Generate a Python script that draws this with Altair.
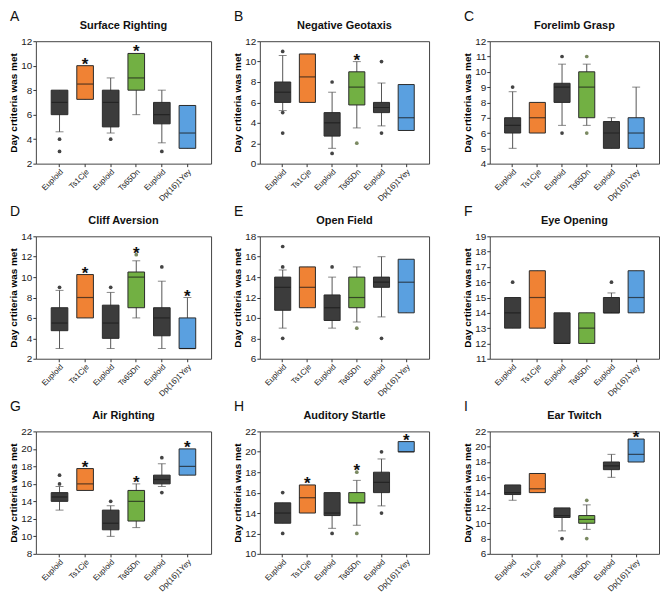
import altair as alt
import pandas as pd

GROUPS = ["Euploid", "Ts1Cje", "Euploid", "Ts65Dn", "Euploid", "Dp(16)1Yey"]
FILLS = ["#3c3c3c", "#f08234", "#3c3c3c", "#72b043", "#3c3c3c", "#5aa0e0"]
OUT_COLORS = ["#444444", "#444444", "#444444", "#7b8a62", "#444444", "#444444"]

# A: Surface Righting
A_LO = [4.6, 7.25, 4.5, 6.0, 3.7, 3.25]
A_Q1 = [6.0, 7.25, 5.0, 8.0, 5.25, 3.25]
A_MED = [7.0, 8.5, 7.0, 9.0, 6.0, 4.5]
A_Q3 = [8.0, 10.0, 8.0, 11.0, 7.0, 6.75]
A_HI = [8.0, 10.0, 9.0, 11.0, 8.0, 6.75]
A_OUT_G = [0, 0, 2, 4]
A_OUT_V = [4, 3, 4, 3]
A_STAR = [1, 3]

# B: Negative Geotaxis
B_LO = [5.2, 6.0, 1.5, 3.5, 3.7, 3.25]
B_Q1 = [6.0, 6.0, 2.7, 5.75, 5.0, 3.25]
B_MED = [7.0, 8.5, 4.0, 7.5, 5.5, 4.5]
B_Q3 = [8.0, 10.75, 5.0, 9.0, 6.0, 7.75]
B_HI = [10.6, 10.75, 7.0, 10.0, 7.9, 7.75]
B_OUT_G = [0, 0, 0, 2, 2, 3, 4, 4]
B_OUT_V = [11, 5, 3, 8, 1, 2, 10, 3]
B_STAR = [3]

# C: Forelimb Grasp
C_LO = [5.0, 6.0, 6.5, 6.5, 5.0, 5.0]
C_Q1 = [6.0, 6.0, 8.0, 7.0, 5.0, 5.0]
C_MED = [6.5, 7.0, 9.0, 9.0, 6.0, 6.0]
C_Q3 = [7.0, 8.0, 9.25, 10.0, 6.75, 7.0]
C_HI = [8.7, 8.0, 10.5, 10.5, 7.0, 9.0]
C_OUT_G = [0, 2, 2, 3, 3]
C_OUT_V = [9, 11, 6, 11, 6]
C_STAR = []

# D: Cliff Aversion
D_LO = [3.0, 6.0, 3.0, 6.0, 3.0, 3.0]
D_Q1 = [4.75, 6.0, 4.0, 7.0, 4.25, 3.0]
D_MED = [5.5, 8.0, 5.5, 10.0, 6.0, 3.0]
D_Q3 = [7.0, 10.25, 7.25, 10.5, 7.0, 6.0]
D_HI = [8.7, 10.25, 8.5, 11.6, 9.6, 8.0]
D_OUT_G = [0, 2, 3, 4]
D_OUT_V = [9, 9, 12.2, 11]
D_STAR = [1, 3, 5]

# E: Open Field
E_LO = [9.0, 11.0, 9.0, 9.6, 10.1, 10.5]
E_Q1 = [10.75, 11.0, 9.75, 11.0, 13.0, 10.5]
E_MED = [13.0, 13.0, 11.0, 12.0, 13.5, 13.5]
E_Q3 = [14.0, 15.0, 12.25, 14.0, 14.0, 15.75]
E_HI = [14.7, 15.0, 14.0, 15.0, 16.0, 15.75]
E_OUT_G = [0, 0, 0, 2, 3, 4]
E_OUT_V = [17, 15, 8, 15, 9, 8]
E_STAR = []

# F: Eye Opening
F_LO = [13.0, 13.0, 12.0, 12.0, 14.0, 14.0]
F_Q1 = [13.0, 13.0, 12.0, 12.0, 14.0, 14.0]
F_MED = [14.0, 15.0, 12.0, 13.0, 14.0, 15.0]
F_Q3 = [15.0, 16.75, 14.0, 14.0, 15.0, 16.75]
F_HI = [15.0, 16.75, 14.0, 14.0, 15.3, 16.75]
F_OUT_G = [0, 4]
F_OUT_V = [16, 16]
F_STAR = []

# G: Air Righting
G_LO = [13.0, 15.25, 10.0, 11.0, 15.7, 17.0]
G_Q1 = [14.0, 15.25, 10.75, 11.75, 16.0, 17.0]
G_MED = [14.5, 16.0, 11.5, 14.0, 16.5, 18.0]
G_Q3 = [15.0, 17.75, 13.0, 15.25, 17.0, 20.0]
G_HI = [15.7, 17.75, 13.5, 16.0, 18.3, 20.0]
G_OUT_G = [0, 0, 2, 4, 4]
G_OUT_V = [17, 16, 14, 19, 15]
G_STAR = [1, 3, 5]

# H: Auditory Startle
H_LO = [13.0, 14.0, 12.5, 12.8, 14.7, 20.0]
H_Q1 = [13.0, 14.0, 13.75, 15.0, 16.0, 20.0]
H_MED = [14.0, 15.5, 14.0, 15.0, 17.0, 20.0]
H_Q3 = [15.0, 16.75, 16.0, 16.0, 18.0, 21.0]
H_HI = [15.0, 16.75, 16.0, 17.2, 19.3, 21.0]
H_OUT_G = [0, 0, 2, 3, 3, 4, 4]
H_OUT_V = [16, 12, 12, 18, 12, 20, 14]
H_STAR = [1, 3, 5]

# I: Ear Twitch
I_LO = [13.0, 14.0, 9.0, 9.2, 16.0, 18.0]
I_Q1 = [13.75, 14.0, 10.75, 10.0, 17.0, 18.0]
I_MED = [14.0, 14.5, 11.0, 10.5, 17.5, 19.0]
I_Q3 = [15.0, 16.5, 12.0, 11.0, 18.0, 21.0]
I_HI = [15.0, 16.5, 12.0, 12.4, 19.0, 21.0]
I_OUT_G = [2, 3, 3]
I_OUT_V = [8, 13, 8]
I_STAR = [5]

H = 123
FONT = "Liberation Sans"


def panel(w, letter, title, lo, q1, med, q3, hi, out_g, out_v, stars, ymin, ymax, ystep):
    df = pd.DataFrame({"g": list(range(6)), "lo": lo, "q1": q1, "med": med,
                       "q3": q3, "hi": hi, "fill": FILLS})
    caps = []
    for i in range(6):
        if lo[i] < q1[i]:
            caps.append({"g": i, "v": lo[i]})
        if hi[i] > q3[i]:
            caps.append({"g": i, "v": hi[i]})
    caps_df = pd.DataFrame(caps)
    out_df = pd.DataFrame({"g": out_g, "v": out_v,
                           "c": [OUT_COLORS[g] for g in out_g]})
    star_rows = []
    for s in stars:
        top = max([hi[s], q3[s]] + [v for g, v in zip(out_g, out_v) if g == s])
        star_rows.append({"g": s, "v": top, "t": "*"})

    labels = "[" + ",".join("'" + s + "'" for s in GROUPS) + "]"
    xsc = alt.Scale(domain=list(range(6)), paddingInner=0.35, paddingOuter=0.6)
    xax = alt.Axis(labelExpr=labels + "[datum.value]", labelAngle=-45,
                   labelFontSize=8, labelColor="#222", tickSize=3,
                   domain=False, labelPadding=1, labelOverlap=False)
    x = alt.X("g:O", title=None, scale=xsc, axis=xax)
    ysc = alt.Scale(domain=[ymin, ymax], nice=False, zero=False)
    yax = alt.Axis(values=list(range(ymin, ymax + 1, ystep)),
                   title="Day crtiteria was met", titleFontSize=10,
                   titleFontWeight="bold", titlePadding=2, labelFontSize=10,
                   labelColor="#222", tickSize=3, domain=False, grid=False,
                   labelPadding=1, labelOverlap=False, labelFlush=False)

    def Y(f):
        return alt.Y(f, scale=ysc, axis=yax)

    layers = [
        alt.Chart(df).mark_rule(color="#555", strokeWidth=1).encode(
            x=x, y=Y("lo:Q"), y2="hi:Q"),
        alt.Chart(caps_df).mark_tick(color="#555", size=8, thickness=1).encode(
            x=x, y=Y("v:Q")),
        alt.Chart(df).mark_bar(stroke="#2a2a2a", strokeWidth=1).encode(
            x=x, y=Y("q1:Q"), y2="q3:Q", fill=alt.Fill("fill:N", scale=None)),
        alt.Chart(df).mark_tick(color="#1a1a1a", size=16, thickness=1.2).encode(
            x=x, y=Y("med:Q")),
        alt.Chart(out_df).mark_circle(size=14, opacity=1).encode(
            x=x, y=Y("v:Q"), color=alt.Color("c:N", scale=None)),
    ]
    if star_rows:
        layers.append(alt.Chart(pd.DataFrame(star_rows)).mark_text(
            fontSize=17, fontWeight="bold", baseline="alphabetic", dy=4,
            color="#111").encode(x=x, y=Y("v:Q"), text="t:N"))
    layers.append(alt.Chart(pd.DataFrame({"t": [letter]})).mark_text(
        align="left", baseline="top", fontSize=14, font=FONT, color="#111").encode(
        text="t:N", x=alt.value(-26), y=alt.value(-31)))
    layers.append(alt.Chart(pd.DataFrame({"t": [title]})).mark_text(
        align="center", baseline="alphabetic", fontSize=11, fontWeight="bold",
        font=FONT, color="#111").encode(
        text="t:N", x=alt.value(w / 2), y=alt.value(-12)))
    return alt.layer(*layers).properties(width=w, height=H)


W1, W2 = 176, 170
pA = panel(W1, "A", "Surface Righting", A_LO, A_Q1, A_MED, A_Q3, A_HI, A_OUT_G, A_OUT_V, A_STAR, 2, 12, 2)
pB = panel(W2, "B", "Negative Geotaxis", B_LO, B_Q1, B_MED, B_Q3, B_HI, B_OUT_G, B_OUT_V, B_STAR, 0, 12, 2)
pC = panel(W2, "C", "Forelimb Grasp", C_LO, C_Q1, C_MED, C_Q3, C_HI, C_OUT_G, C_OUT_V, C_STAR, 4, 12, 1)
pD = panel(W1, "D", "Cliff Aversion", D_LO, D_Q1, D_MED, D_Q3, D_HI, D_OUT_G, D_OUT_V, D_STAR, 2, 14, 2)
pE = panel(W2, "E", "Open Field", E_LO, E_Q1, E_MED, E_Q3, E_HI, E_OUT_G, E_OUT_V, E_STAR, 6, 18, 2)
pF = panel(W2, "F", "Eye Opening", F_LO, F_Q1, F_MED, F_Q3, F_HI, F_OUT_G, F_OUT_V, F_STAR, 11, 19, 1)
pG = panel(W1, "G", "Air Righting", G_LO, G_Q1, G_MED, G_Q3, G_HI, G_OUT_G, G_OUT_V, G_STAR, 8, 22, 2)
pH = panel(W2, "H", "Auditory Startle", H_LO, H_Q1, H_MED, H_Q3, H_HI, H_OUT_G, H_OUT_V, H_STAR, 10, 22, 2)
pI = panel(W2, "I", "Ear Twitch", I_LO, I_Q1, I_MED, I_Q3, I_HI, I_OUT_G, I_OUT_V, I_STAR, 6, 22, 2)


def row(a, b, c):
    return alt.hconcat(alt.hconcat(a, b, spacing=20), c, spacing=32)


chart = alt.vconcat(row(pA, pB, pC), row(pD, pE, pF), row(pG, pH, pI),
                    spacing=1).configure_view(
    stroke="#444", strokeWidth=1
).configure_axis(
    labelFont=FONT, titleFont=FONT, tickColor="#333"
).configure_text(font=FONT).properties(padding=0, background="white")

chart.save("out.html", embed_options={"renderer": "svg", "actions": False})
